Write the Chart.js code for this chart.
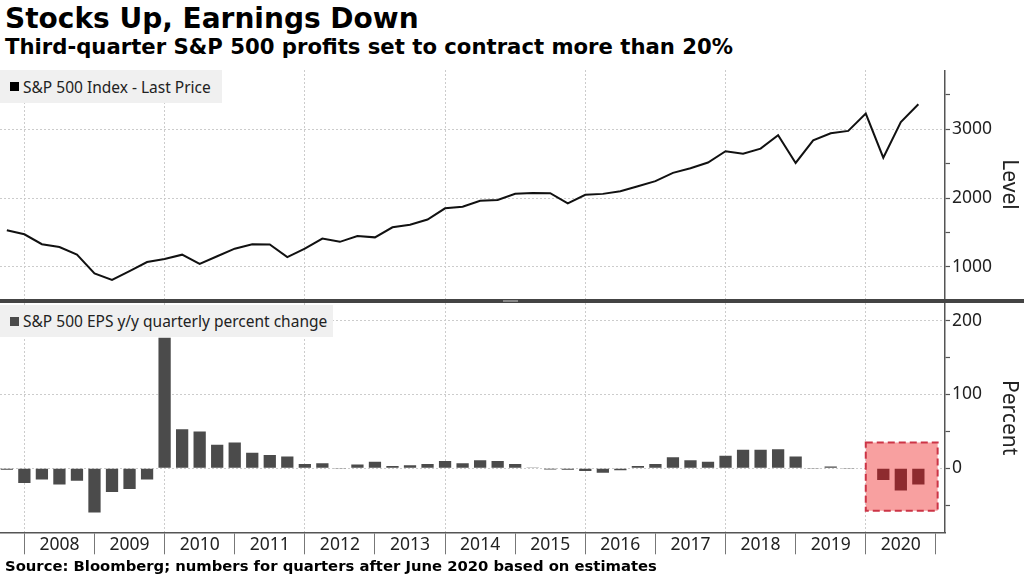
<!DOCTYPE html>
<html><head><meta charset="utf-8">
<script src="https://cdn.jsdelivr.net/npm/chart.js@4.4.1/dist/chart.umd.min.js"></script>
<style>
html,body{margin:0;padding:0;background:#fff;}
body{width:1024px;height:576px;position:relative;overflow:hidden;font-family:"Noto Sans",sans-serif;}
.abs{position:absolute;}
#t1{left:5px;top:5px;font:bold 28px/28px "DejaVu Sans";color:#000;white-space:nowrap;}
#t2{left:5px;top:35.5px;font:bold 21.2px/21.2px "DejaVu Sans";color:#000;white-space:nowrap;}
#src{left:5px;top:559px;font:bold 14.8px/14.8px "DejaVu Sans";color:#000;white-space:nowrap;}
.leg{background:#f0f0f0;display:flex;align-items:center;font:15.5px "Noto Sans";color:#222;white-space:nowrap;}
.sq{width:9px;height:9px;margin-left:10px;margin-right:4px;flex:none;}
</style></head>
<body>
<div id="t1" class="abs">Stocks Up, Earnings Down</div>
<div id="t2" class="abs">Third-quarter S&amp;P 500 profits set to contract more than 20%</div>
<div class="abs" style="left:0;top:70px;width:1024px;height:229px"><canvas id="c1"></canvas></div>
<div class="abs" style="left:0;top:299px;width:1024px;height:4px;background:#444"></div>
<div class="abs" style="left:503px;top:300px;width:15px;height:2px;background:#888"></div>
<div class="abs" style="left:0;top:303px;width:1024px;height:273px"><canvas id="c2"></canvas></div>
<div class="abs leg" style="left:0;top:70px;width:222px;height:33px"><div class="sq" style="background:#000"></div>S&amp;P 500 Index - Last Price</div>
<div class="abs leg" style="left:0;top:305px;width:333px;height:32px"><div class="sq" style="background:#4b4b4b"></div>S&amp;P 500 EPS y/y quarterly percent change</div>
<div id="src" class="abs">Source: Bloomberg; numbers for quarters after June 2020 based on estimates</div>
<script>
const quarters = ['2007Q3','2007Q4',
 '2008Q1','2008Q2','2008Q3','2008Q4','2009Q1','2009Q2','2009Q3','2009Q4',
 '2010Q1','2010Q2','2010Q3','2010Q4','2011Q1','2011Q2','2011Q3','2011Q4',
 '2012Q1','2012Q2','2012Q3','2012Q4','2013Q1','2013Q2','2013Q3','2013Q4',
 '2014Q1','2014Q2','2014Q3','2014Q4','2015Q1','2015Q2','2015Q3','2015Q4',
 '2016Q1','2016Q2','2016Q3','2016Q4','2017Q1','2017Q2','2017Q3','2017Q4',
 '2018Q1','2018Q2','2018Q3','2018Q4','2019Q1','2019Q2','2019Q3','2019Q4',
 '2020Q1','2020Q2','2020Q3'];
const spx = [1530,1472,1328,1287,1175,903,808,935,1068,1112,1175,1040,1152,1262,1328,1325,1140,1262,1410,1362,1446,1427,1574,1612,1686,1850,1874,1961,1972,2062,
 2072,2070,1922,2046,2060,2098,2172,2246,2366,2432,2516,2680,2643,2718,2913,2510,2840,2942,2977,3228,2586,3104,3364];
const epsChange = [-2,-20,-15,-22,-17,-60,-32,-28,-15,177,53,50,32,35,21,18,16,6,7,-0.8,5,9,3,4,6,10,7,11,10,6,
 1,-1.5,-2,-3.5,-6,-2.5,3,6,15,11,9,17,25,25,26,16,-1,2.5,-0.8,0.8,-16,-30,-22];
const years = ['2008','2009','2010','2011','2012','2013','2014','2015','2016','2017','2018','2019','2020'];
const levelTicks = [1000,2000,3000], levelMinor = [1500,2500,3500];
const pctTicks = [0,100,200], pctMinor = [-50,50,150];
const highlightFrom = '2020Q1';
const highlight = {x0:48, x1:52.1, yTop:35, yBottom:-57.5};

function qx(q){ const y=+q.slice(0,4), n=+q.slice(5); return (y-2007)*4 + n - 4; }
const yearTickVals = [];
years.forEach((y,i)=>{ yearTickVals.push(i*4, i*4+2); });
yearTickVals.push(years.length*4);

const TICKFONT = {family:'Noto Sans', size:17.5};
function xScale(bottom){ return {
  type:'linear', min:-1.39, max:52.52, offset:false,
  afterBuildTicks: s => { s.ticks = yearTickVals.map(v=>({value:v})); },
  grid:{ offset:false, drawOnChartArea:true, drawTicks:bottom, tickLength:22, lineWidth:1, tickWidth:1,
    color: c => (c.tick && c.tick.value % 8 === 0) ? '#cccccc' : 'rgba(0,0,0,0)',
    tickColor: c => (c.tick && c.tick.value % 4 === 0) ? '#777' : 'rgba(0,0,0,0)' },
  border:{display:bottom, color:'#555', width:1.5, dash:[2,2]},
  ticks:{display:bottom, autoSkip:false, maxRotation:0, minRotation:0, padding:-19.5, color:'#222', font:TICKFONT,
    callback: v => ((v-2)%4===0) ? years[(v-2)/4] : ''},
  afterFit: s => { s.height = bottom ? 43.7 : 0; s.paddingLeft = 0; s.paddingRight = 0; }
};}
function yScale(min,max,major,minor,title){ return {
  position:'right', min:min, max:max,
  afterBuildTicks: s => { s.ticks = major.concat(minor).sort((a,b)=>a-b).map(v=>({value:v})); },
  grid:{ color: c => (c.tick && major.includes(c.tick.value)) ? '#cccccc' : 'rgba(0,0,0,0)', tickColor:'#555', tickLength:5, tickWidth:1.2, drawTicks:true },
  border:{display:true, color:'#555', width:1.5, dash:[2,2]},
  ticks:{color:'#222', font:TICKFONT, padding:2, autoSkip:false, callback: v => major.includes(v) ? String(v) : ''},
  title:{display:true, text:title, color:'#222', font:{family:'Noto Sans', size:21}, padding:{top:2.5,bottom:0}},
  afterFit: s => { s.width = 79; s.paddingTop = 0; s.paddingBottom = 0; }
};}
const common = {responsive:true, maintainAspectRatio:false, animation:false, layout:{padding:0},
  plugins:{legend:{display:false}, tooltip:{enabled:false}}};

new Chart(document.getElementById('c1'), {
  type:'line',
  data:{datasets:[{data: quarters.map((q,i)=>({x:qx(q), y:spx[i]})), borderColor:'#111', borderWidth:2, pointRadius:0, tension:0}]},
  options:Object.assign({}, common, {scales:{x:xScale(false), y:yScale(530,3863,levelTicks,levelMinor,'Level')}})
});

const highlightBox = {id:'hl', beforeDatasetsDraw(chart){
  const {ctx, scales:{x,y}} = chart;
  const l=x.getPixelForValue(highlight.x0), r=x.getPixelForValue(highlight.x1);
  const t=y.getPixelForValue(highlight.yTop), b=y.getPixelForValue(highlight.yBottom);
  ctx.save(); ctx.fillStyle='#f8a0a0'; ctx.fillRect(l,t,r-l,b-t);
  ctx.setLineDash([7,4]); ctx.lineWidth=2; ctx.strokeStyle='#cc3446'; ctx.strokeRect(l,t,r-l,b-t); ctx.restore();
}};
new Chart(document.getElementById('c2'), {
  type:'bar',
  data:{datasets:[{data: quarters.map((q,i)=>({x:qx(q), y:epsChange[i]})),
    backgroundColor: c => (quarters[c.dataIndex] >= highlightFrom) ? '#8e2b2f' : '#4b4b4b',
    barPercentage:0.7, categoryPercentage:1}]},
  options:Object.assign({}, common, {scales:{x:xScale(true), y:yScale(-86.7,224,pctTicks,pctMinor,'Percent')}}),
  plugins:[highlightBox]
});
</script>
</body></html>
